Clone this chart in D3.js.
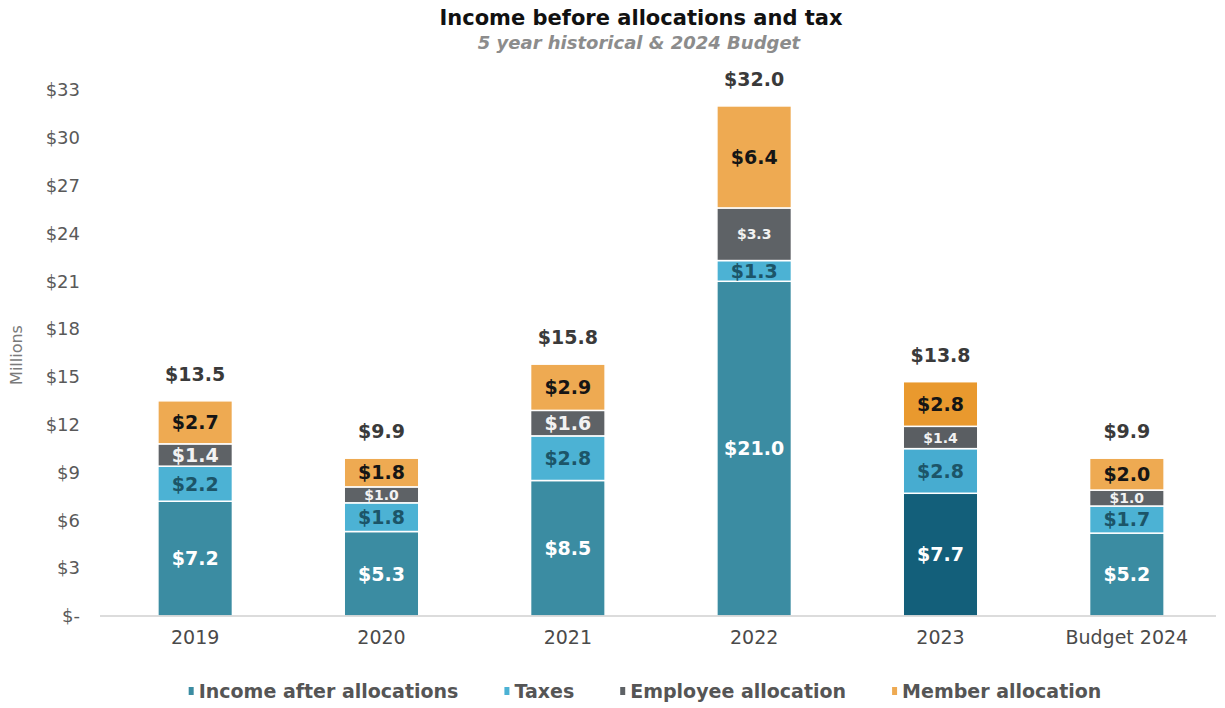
<!DOCTYPE html>
<html>
<head>
<meta charset="utf-8">
<script src="https://cdn.jsdelivr.net/npm/d3@7"></script>
<style>
  html, body { margin: 0; padding: 0; background: #fff; }
  svg { display: block; }
</style>
</head>
<body>
<svg id="chart" width="1225" height="708"></svg>
<script>
// Years shown on the x axis
const categories = ["2019", "2020", "2021", "2022", "2023", "Budget 2024"];

// Stacked components, $ millions
const incomeAfterAllocations = [7.2, 5.3, 8.5, 21.0, 7.7, 5.2];
const taxes                  = [2.2, 1.8, 2.8, 1.3, 2.8, 1.7];
const employeeAllocation     = [1.4, 1.0, 1.6, 3.3, 1.4, 1.0];
const memberAllocation       = [2.7, 1.8, 2.9, 6.4, 2.8, 2.0];

// Reported totals printed above each column
const totals = [13.5, 9.9, 15.8, 32.0, 13.8, 9.9];

// Y axis ticks
const yTicks = [0, 3, 6, 9, 12, 15, 18, 21, 24, 27, 30, 33];

const seriesNames = ["Income after allocations", "Taxes", "Employee allocation", "Member allocation"];

// ---- styling ----
const colors = {
  "Income after allocations": "#3b8ca2",
  "Taxes": "#4cb2d4",
  "Employee allocation": "#5e6266",
  "Member allocation": "#eeaa52"
};
// the current year is emphasised with deeper tones
const highlightColors = {
  "Income after allocations": "#135f7a",
  "Taxes": "#47acd0",
  "Employee allocation": "#5a5e62",
  "Member allocation": "#e9992e"
};
const highlightYear = "2023";
const labelColors = {
  "Income after allocations": "#ffffff",
  "Taxes": "#1c5568",
  "Employee allocation": "#f2f2f2",
  "Member allocation": "#151515"
};
// employee labels squeezed into thin or busy segments use a smaller size
const smallEmployeeLabel = new Set(["2020", "2022", "2023", "Budget 2024"]);

const FONT = "'DejaVu Sans', Verdana, sans-serif";

const svg = d3.select("#chart");

// ---- data table for the stack ----
const table = categories.map((c, i) => ({
  category: c,
  "Income after allocations": incomeAfterAllocations[i],
  "Taxes": taxes[i],
  "Employee allocation": employeeAllocation[i],
  "Member allocation": memberAllocation[i],
  total: totals[i]
}));

const stack = d3.stack().keys(seriesNames);
const layers = stack(table);

// ---- scales ----
const x = d3.scaleBand()
  .domain(categories)
  .range([102, 1220])
  .paddingInner(0.6)
  .paddingOuter(0.3);

const y = d3.scaleLinear()
  .domain([0, 33])
  .range([616, 90]);

// ---- title ----
svg.append("text")
  .attr("x", 641).attr("y", 25)
  .attr("text-anchor", "middle")
  .style("font-family", FONT)
  .style("font-weight", "bold")
  .style("font-size", "21px")
  .attr("fill", "#111")
  .text("Income before allocations and tax");

svg.append("text")
  .attr("x", 639).attr("y", 49)
  .attr("text-anchor", "middle")
  .style("font-family", FONT)
  .style("font-weight", "bold")
  .style("font-style", "italic")
  .style("font-size", "18px")
  .attr("fill", "#8c8c8c")
  .text("5 year historical & 2024 Budget");

// ---- y axis (labels only) ----
const yAxis = d3.axisLeft(y)
  .tickValues(yTicks)
  .tickSize(0)
  .tickPadding(0)
  .tickFormat(d => d === 0 ? "$-" : "$" + d);

const yG = svg.append("g")
  .attr("transform", "translate(80,0)")
  .call(yAxis);
yG.select(".domain").remove();
yG.selectAll("text")
  .style("font-family", FONT)
  .style("font-size", "18px")
  .attr("fill", "#595959");

svg.append("text")
  .attr("transform", "translate(22,355) rotate(-90)")
  .attr("text-anchor", "middle")
  .style("font-family", FONT)
  .style("font-size", "16px")
  .attr("fill", "#7a7a7a")
  .text("Millions");

// ---- x axis ----
const xAxis = d3.axisBottom(x).tickSize(0).tickPadding(15);
const xG = svg.append("g")
  .attr("transform", `translate(0,${y(0)})`)
  .call(xAxis);
xG.select(".domain").remove();
xG.selectAll("text")
  .style("font-family", FONT)
  .style("font-size", "19px")
  .attr("fill", "#4a4a4a");

// ---- bars ----
const layerG = svg.append("g").selectAll("g")
  .data(layers)
  .join("g");

layerG.selectAll("rect")
  .data(layer => layer.map(d => ({ key: layer.key, d })))
  .join("rect")
  .attr("x", p => x(p.d.data.category))
  .attr("width", x.bandwidth())
  .attr("y", p => y(p.d[1]))
  .attr("height", p => y(p.d[0]) - y(p.d[1]))
  .attr("fill", p => (p.d.data.category === highlightYear ? highlightColors : colors)[p.key])
  .attr("stroke", "#ffffff")
  .attr("stroke-width", 1.5);

// baseline
svg.append("line")
  .attr("x1", 100).attr("x2", 1216)
  .attr("y1", y(0)).attr("y2", y(0))
  .attr("stroke", "#d0d0d0")
  .attr("stroke-width", 1.5);

// ---- segment labels ----
layerG.selectAll("text")
  .data(layer => layer.map(d => ({ key: layer.key, d })))
  .join("text")
  .attr("x", p => x(p.d.data.category) + x.bandwidth() / 2)
  .attr("y", p => (y(p.d[0]) + y(p.d[1])) / 2)
  .attr("dy", "0.36em")
  .attr("text-anchor", "middle")
  .style("font-family", FONT)
  .style("font-weight", "bold")
  .style("font-size", p => (p.key === "Employee allocation" && smallEmployeeLabel.has(p.d.data.category)) ? "14px" : "19px")
  .attr("fill", p => labelColors[p.key])
  .text(p => "$" + d3.format(".1f")(p.d[1] - p.d[0]));

// ---- totals ----
svg.append("g").selectAll("text")
  .data(table)
  .join("text")
  .attr("x", d => x(d.category) + x.bandwidth() / 2)
  .attr("y", d => y(d3.sum(seriesNames, k => d[k])) - 20)
  .attr("text-anchor", "middle")
  .style("font-family", FONT)
  .style("font-weight", "bold")
  .style("font-size", "19px")
  .attr("fill", "#3a3a3a")
  .text(d => "$" + d3.format(".1f")(d.total));

// ---- legend ----
const legend = svg.append("g");
const items = legend.selectAll("g")
  .data(seriesNames)
  .join("g");
items.append("rect")
  .attr("width", 5).attr("height", 8)
  .attr("y", -4)
  .attr("fill", d => colors[d]);
items.append("text")
  .attr("x", 10)
  .attr("dy", "0.36em")
  .style("font-family", FONT)
  .style("font-weight", "bold")
  .style("font-size", "19px")
  .attr("fill", "#555")
  .text(d => d);

let cursor = 0;
const gap = 46;
items.each(function () {
  const g = d3.select(this);
  g.attr("transform", `translate(${cursor},0)`);
  cursor += 10 + g.select("text").node().getComputedTextLength() + gap;
});
const legendWidth = cursor - gap;
legend.attr("transform", `translate(${645 - legendWidth / 2},691)`);
</script>
</body>
</html>
